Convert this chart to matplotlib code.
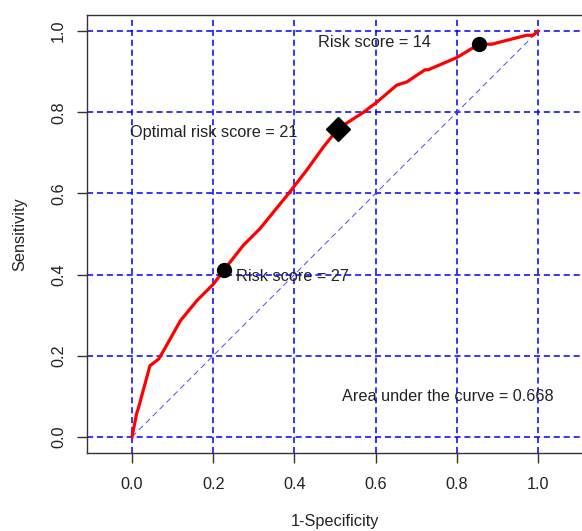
import matplotlib
matplotlib.use('Agg')
import matplotlib.pyplot as plt

plt.rcParams['font.family'] = ['Liberation Sans', 'DejaVu Sans']

# ROC curve (1-specificity, sensitivity)
fpr = [0.0, 0.011, 0.016, 0.025, 0.044, 0.066, 0.082, 0.119, 0.160, 0.201,
       0.227, 0.274, 0.315, 0.385, 0.430, 0.471, 0.508, 0.570, 0.603, 0.652,
       0.677, 0.722, 0.730, 0.800, 0.855, 0.886, 0.972, 0.988, 1.0]
tpr = [0.0, 0.056, 0.072, 0.105, 0.175, 0.192, 0.220, 0.286, 0.336, 0.377,
       0.412, 0.472, 0.513, 0.599, 0.657, 0.714, 0.760, 0.800, 0.825, 0.867,
       0.875, 0.905, 0.905, 0.935, 0.968, 0.968, 0.990, 0.990, 1.0]

# highlighted cut-offs
cut_fpr = [0.227, 0.855]
cut_tpr = [0.412, 0.968]
opt_fpr = [0.508]
opt_tpr = [0.760]

ticks = [0.0, 0.2, 0.4, 0.6, 0.8, 1.0]
tick_labels = ['0.0', '0.2', '0.4', '0.6', '0.8', '1.0']

fig = plt.figure(figsize=(5.82, 5.31), dpi=100)
ax = fig.add_axes([87 / 582, 1 - 453 / 531, 496 / 582, 438 / 531])

# grid
for t in ticks:
    ax.axhline(t, color='#0000ff', lw=1.1, ls=(0, (4, 2.5)), zorder=1)
    ax.axvline(t, color='#0000ff', lw=1.1, ls=(0, (4, 2.5)), zorder=1)

# chance line
ax.plot([0, 1], [0, 1], color='#4a4aff', lw=0.7, ls=(0, (6, 4)), zorder=2)

ax.plot(fpr, tpr, color='#ff0000', lw=2.3, zorder=3)
ax.plot(cut_fpr, cut_tpr, 'o', color='black', ms=10, zorder=4)
ax.plot(opt_fpr, opt_tpr, 'D', color='black', ms=12, zorder=4)

fs = 11.7
ax.text(0.2, 0.75, 'Optimal risk score = 21', fontsize=fs, ha='center', va='center', color='#222222')
ax.text(0.597, 0.973, 'Risk score = 14', fontsize=fs, ha='center', va='center', color='#222222')
ax.text(0.395, 0.395, 'Risk score = 27', fontsize=fs, ha='center', va='center', color='#222222')
ax.text(0.777, 0.099, 'Area under the curve = 0.668', fontsize=fs, ha='center', va='center', color='#222222')

ax.set_xlim(-0.111, 1.111)
ax.set_ylim(-0.04, 1.04)
ax.set_xticks(ticks)
ax.set_xticklabels(tick_labels)
ax.set_yticks(ticks)
ax.set_yticklabels(tick_labels, rotation=90, va='center')
ax.tick_params(direction='out', length=7, width=1, colors='#333333', labelsize=fs,
               labelcolor='#222222')
ax.tick_params(axis='x', pad=10)
ax.tick_params(axis='y', pad=8)
for s in ax.spines.values():
    s.set_color('#333333')
    s.set_linewidth(1)

ax.set_xlabel('1-Specificity', fontsize=fs, color='#222222', labelpad=16)
ax.set_ylabel('Sensitivity', fontsize=fs, color='#222222', labelpad=17)

fig.savefig('out.png', dpi=100)
